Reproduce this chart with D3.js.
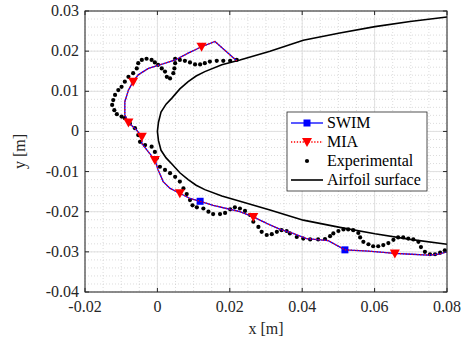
<!DOCTYPE html>
<html>
<head>
<meta charset="utf-8">
<script src="https://cdn.jsdelivr.net/npm/d3@7"></script>
<style>
  body { margin: 0; background: #fff; }
</style>
</head>
<body>
<svg id="chart" width="465" height="347" font-family="'Liberation Serif', 'DejaVu Serif', serif"></svg>
<script>
// trajectory data (m)
const swimX = [0.0219,0.0159,0.0122,0.0085,0.0049,0.0007,-0.0025,-0.0053,-0.0067,-0.0080,-0.0090,-0.0090,-0.0080,-0.0057,-0.0043,-0.0043,-0.0025,-0.0007,0.0002,0.0016,0.0035,0.0062,0.0090,0.0118,0.0154,0.0191,0.0228,0.0265,0.0302,0.0339,0.0375,0.0412,0.0472,0.0518,0.0583,0.0656,0.0702,0.0748,0.0776,0.0799]
const swimY = [0.0176,0.0224,0.0211,0.0195,0.0178,0.0166,0.0157,0.0141,0.0124,0.0103,0.0074,0.0041,0.0022,0.0003,-0.0013,-0.0030,-0.0051,-0.0071,-0.0096,-0.0125,-0.0142,-0.0154,-0.0167,-0.0174,-0.0184,-0.0192,-0.0200,-0.0213,-0.0229,-0.0244,-0.0254,-0.0267,-0.0272,-0.0295,-0.0298,-0.0304,-0.0306,-0.0308,-0.0306,-0.0300]
const miaX = swimX.slice()
const miaY = swimY.slice()
const swimMarks = [23, 33]
const miaMarks = [2, 8, 12, 14, 17, 21, 27, 35]

const expX = [21.9,20.1,18.2,16.4,14.5,13.1,11.8,10.4,9.0,7.6,6.2,4.9,4.9,4.7,4.4,3.5,2.6,2.1,1.2,0.2,-0.7,-1.6,-3.0,-4.3,-5.3,-5.7,-6.7,-8.0,-9.0,-9.9,-10.8,-11.7,-12.2,-12.5,-11.9,-11.2,-9.9,-9.0,-7.6,-6.2,-5.3,-4.8,-3.4,-1.6,-0.7,-0.2,0.7,2.1,3.5,4.9,6.2,7.2,8.1,9.0,9.7,10.9,12.7,14.1,15.4,17.3,18.7,20.1,21.4,22.8,24.2,25.6,26.5,27.9,28.8,30.2,31.6,33.0,34.3,35.7,36.6,38.5,40.3,42.2,44.4,46.3,47.7,48.6,50.0,51.4,52.7,54.1,55.5,56.0,56.9,58.3,59.6,61.0,62.4,63.8,65.2,66.5,67.9,69.3,70.7,72.1,72.8,73.9,75.3,76.7,78.1,79.4].map(v => v / 1000)
const expY = [17.8,17.6,17.6,17.6,17.4,17.0,16.7,16.7,17.2,17.6,17.8,18.1,17.0,15.7,14.5,13.2,13.6,14.9,15.7,16.6,17.2,17.8,18.1,17.8,17.0,15.7,14.5,13.6,12.4,11.1,10.3,9.1,7.8,6.6,5.3,4.3,3.7,3.3,2.0,0.8,-0.9,-2.6,-3.4,-3.8,-5.1,-6.7,-8.8,-9.6,-10.4,-11.3,-12.5,-14.2,-15.6,-17.1,-18.4,-18.9,-19.2,-20.0,-20.6,-20.6,-20.3,-19.4,-18.9,-19.2,-19.8,-20.8,-22.5,-23.8,-25.0,-25.8,-25.6,-25.0,-24.6,-24.8,-25.4,-26.3,-26.7,-26.9,-26.9,-26.8,-26.1,-25.4,-24.8,-24.4,-24.4,-24.6,-25.3,-26.4,-27.5,-28.1,-28.6,-28.6,-28.3,-27.8,-27.0,-26.4,-26.4,-26.7,-26.9,-27.5,-28.8,-30.0,-30.6,-30.6,-30.2,-29.6].map(v => v / 1000)

const airX = [0.0800,0.0698,0.0601,0.0504,0.0403,0.0311,0.0228,0.0178,0.0131,0.0107,0.0085,0.0062,0.0040,0.0024,0.0010,0.0003,0.0000,0.0003,0.0010,0.0024,0.0040,0.0062,0.0085,0.0107,0.0131,0.0178,0.0228,0.0311,0.0403,0.0504,0.0601,0.0698,0.0800]
const airY = [-0.0281,-0.0269,-0.0255,-0.0239,-0.0221,-0.0196,-0.0174,-0.0161,-0.0145,-0.0134,-0.0120,-0.0103,-0.0081,-0.0066,-0.0047,-0.0023,0.0000,0.0023,0.0048,0.0068,0.0083,0.0106,0.0124,0.0138,0.0149,0.0166,0.0178,0.0200,0.0227,0.0245,0.0261,0.0274,0.0285]

const xTicks = [-0.02, 0, 0.02, 0.04, 0.06, 0.08]
const yTicks = [-0.04, -0.03, -0.02, -0.01, 0, 0.01, 0.02, 0.03]
const legendLabels = ["SWIM", "MIA", "Experimental", "Airfoil surface"]

const L = 85, R = 447, T = 11, B = 292
const svg = d3.select("#chart")

const x = d3.scaleLinear().domain([-0.02, 0.08]).range([L, R])
const y = d3.scaleLinear().domain([-0.04, 0.03]).range([B, T])

// minor grid
const grid = svg.append("g")
grid.selectAll(".mx").data(d3.range(-0.02, 0.0801, 0.005))
    .join("line")
    .attr("x1", d => x(d)).attr("x2", d => x(d))
    .attr("y1", T).attr("y2", B)
    .attr("stroke", "#c4c4c4").attr("stroke-width", 0.6)
    .attr("stroke-dasharray", "1,2")
grid.selectAll(".my").data(d3.range(-0.04, 0.0301, 0.002))
    .join("line")
    .attr("y1", d => y(d)).attr("y2", d => y(d))
    .attr("x1", L).attr("x2", R)
    .attr("stroke", "#c4c4c4").attr("stroke-width", 0.6)
    .attr("stroke-dasharray", "1,2")
// major grid
grid.selectAll(".gx").data(xTicks)
    .join("line")
    .attr("x1", d => x(d)).attr("x2", d => x(d))
    .attr("y1", T).attr("y2", B)
    .attr("stroke", "#e0e0e0").attr("stroke-width", 1)
grid.selectAll(".gy").data(yTicks)
    .join("line")
    .attr("y1", d => y(d)).attr("y2", d => y(d))
    .attr("x1", L).attr("x2", R)
    .attr("stroke", "#e0e0e0").attr("stroke-width", 1)

// airfoil
const line = d3.line().x(d => x(d[0])).y(d => y(d[1]))
svg.append("path")
    .datum(d3.zip(airX, airY))
    .attr("fill", "none")
    .attr("stroke", "black")
    .attr("stroke-width", 1.6)
    .attr("d", line)

// experimental
svg.append("g")
    .selectAll("circle")
    .data(d3.zip(expX, expY))
    .join("circle")
    .attr("cx", d => x(d[0]))
    .attr("cy", d => y(d[1]))
    .attr("r", 2.1)
    .attr("fill", "black")

// SWIM
const swim = d3.zip(swimX, swimY)
svg.append("path")
    .datum(swim)
    .attr("fill", "none")
    .attr("stroke", "#0000ff")
    .attr("stroke-width", 1.3)
    .attr("d", line)
svg.append("g")
    .selectAll("rect")
    .data(swimMarks.map(i => swim[i]))
    .join("rect")
    .attr("x", d => x(d[0]) - 3.5)
    .attr("y", d => y(d[1]) - 3.5)
    .attr("width", 7).attr("height", 7)
    .attr("fill", "#0000ff")

// MIA
const mia = d3.zip(miaX, miaY)
svg.append("path")
    .datum(mia)
    .attr("fill", "none")
    .attr("stroke", "#ff0000")
    .attr("stroke-width", 1.3)
    .attr("stroke-dasharray", "1.3,1.6")
    .attr("d", line)
const tri = "M-5,-4L5,-4L0,5Z"
svg.append("g")
    .selectAll("path")
    .data(miaMarks.map(i => mia[i]))
    .join("path")
    .attr("transform", d => `translate(${x(d[0])},${y(d[1])})`)
    .attr("d", tri)
    .attr("fill", "#ff0000")

// box + ticks
svg.append("rect")
    .attr("x", L).attr("y", T)
    .attr("width", R - L).attr("height", B - T)
    .attr("fill", "none")
    .attr("stroke", "#262626")
    .attr("stroke-width", 1)

const ticks = svg.append("g").attr("stroke", "#262626")
xTicks.forEach(t => {
    ticks.append("line").attr("x1", x(t)).attr("x2", x(t)).attr("y1", B).attr("y2", B - 4)
    ticks.append("line").attr("x1", x(t)).attr("x2", x(t)).attr("y1", T).attr("y2", T + 4)
})
yTicks.forEach(t => {
    ticks.append("line").attr("y1", y(t)).attr("y2", y(t)).attr("x1", L).attr("x2", L + 4)
    ticks.append("line").attr("y1", y(t)).attr("y2", y(t)).attr("x1", R).attr("x2", R - 4)
})

const fmt = d => d === 0 ? "0" : d3.format(".2f")(d).replace("−", "-")
svg.append("g")
    .selectAll("text")
    .data(xTicks)
    .join("text")
    .attr("x", d => x(d))
    .attr("y", 312)
    .attr("text-anchor", "middle")
    .attr("font-size", 16)
    .attr("fill", "#262626")
    .text(fmt)
svg.append("g")
    .selectAll("text")
    .data(yTicks)
    .join("text")
    .attr("x", 79)
    .attr("y", d => y(d) + 5)
    .attr("text-anchor", "end")
    .attr("font-size", 16)
    .attr("fill", "#262626")
    .text(fmt)

svg.append("text")
    .attr("x", (L + R) / 2)
    .attr("y", 334)
    .attr("text-anchor", "middle")
    .attr("font-size", 16)
    .attr("fill", "#262626")
    .text("x [m]")
svg.append("text")
    .attr("transform", `translate(25,${(T + B) / 2}) rotate(-90)`)
    .attr("text-anchor", "middle")
    .attr("font-size", 16)
    .attr("fill", "#262626")
    .text("y [m]")

// legend
const lg = svg.append("g").attr("transform", "translate(287,112)")
lg.append("rect")
    .attr("width", 140).attr("height", 79)
    .attr("fill", "white")
    .attr("stroke", "#262626")
    .attr("stroke-width", 0.8)
const rowY = i => 11 + i * 19
const row = lg.selectAll(".row")
    .data(legendLabels)
    .join("g")
    .attr("transform", (d, i) => `translate(0,${rowY(i)})`)
row.append("text")
    .attr("x", 40)
    .attr("y", 5)
    .attr("font-size", 16)
    .attr("fill", "black")
    .text(d => d)
lg.append("line").attr("x1", 4).attr("x2", 36).attr("y1", rowY(0)).attr("y2", rowY(0))
    .attr("stroke", "#0000ff").attr("stroke-width", 1.3)
lg.append("rect").attr("x", 16.5).attr("y", rowY(0) - 3.5).attr("width", 7).attr("height", 7)
    .attr("fill", "#0000ff")
lg.append("line").attr("x1", 4).attr("x2", 36).attr("y1", rowY(1)).attr("y2", rowY(1))
    .attr("stroke", "#ff0000").attr("stroke-width", 1.3).attr("stroke-dasharray", "1.3,1.6")
lg.append("path").attr("transform", `translate(20,${rowY(1)})`).attr("d", tri)
    .attr("fill", "#ff0000")
lg.append("circle").attr("cx", 20).attr("cy", rowY(2)).attr("r", 2.1).attr("fill", "black")
lg.append("line").attr("x1", 4).attr("x2", 36).attr("y1", rowY(3)).attr("y2", rowY(3))
    .attr("stroke", "black").attr("stroke-width", 1.6)
</script>
</body>
</html>
